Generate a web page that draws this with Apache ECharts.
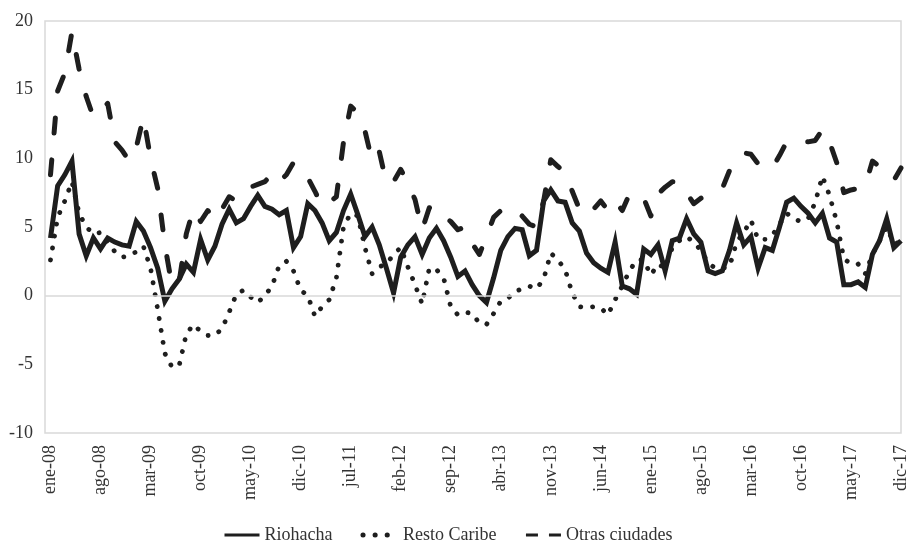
<!DOCTYPE html>
<html>
<head>
<meta charset="utf-8">
<script src="https://cdn.jsdelivr.net/npm/echarts@6/dist/echarts.min.js"></script>
<style>
  html, body { margin: 0; padding: 0; background: #fff; }
  #chart { width: 911px; height: 543px; }
</style>
</head>
<body>
<div id="chart"></div>
<script>
// monthly series, ene-08 .. dic-17
const months = ['ene', 'feb', 'mar', 'abr', 'may', 'jun', 'jul', 'ago', 'sep', 'oct', 'nov', 'dic']
const years = ['08', '09', '10', '11', '12', '13', '14', '15', '16', '17']
const categories = years.flatMap(y => months.map(m => m + '-' + y))

const riohacha = [
  4.2, 8.0, 8.8, 9.8, 4.5, 2.9, 4.2, 3.4, 4.2, 3.9, 3.7, 3.6,
  5.4, 4.7, 3.5, 2.0, -0.4, 0.5, 1.2, 2.3, 1.7, 4.1, 2.6, 3.6,
  5.2, 6.3, 5.3, 5.6, 6.5, 7.3, 6.5, 6.3, 5.9, 6.2, 3.5, 4.3,
  6.7, 6.2, 5.3, 4.0, 4.6, 6.2, 7.4, 5.9, 4.3, 5.0, 3.7, 2.0,
  0.2, 2.8, 3.7, 4.3, 3.0, 4.2, 4.9, 4.0, 2.8, 1.4, 1.8, 0.8,
  0.0, -0.5, 1.3, 3.3, 4.3, 4.9, 4.8, 2.9, 3.3, 6.9, 7.7, 6.9,
  6.8, 5.3, 4.7, 3.1, 2.4, 2.0, 1.7, 3.9, 0.7, 0.5, 0.1, 3.4,
  3.0, 3.7, 1.8, 4.0, 4.2, 5.6, 4.5, 3.9, 1.8, 1.6, 1.8, 3.3,
  5.3, 3.7, 4.3, 2.0, 3.5, 3.3, 5.0, 6.8, 7.1, 6.5, 6.0, 5.3,
  6.0, 4.2, 3.9, 0.8, 0.8, 1.0, 0.6, 3.0, 4.0, 5.6, 3.5, 4.0
]
const restoCaribe = [
  2.6, 5.7, 6.9, 8.3, 6.0, 5.0, 4.5, 4.6, 3.9, 3.2, 2.8, 2.9,
  3.2, 3.6, 2.0, -1.0, -4.2, -5.2, -5.1, -2.8, -2.1, -2.6, -2.9, -2.9,
  -2.4, -1.2, 0.1, 0.4, -0.1, -0.5, 0.0, 0.7, 2.2, 2.5, 1.8, 0.4,
  0.0, -1.5, -0.8, -0.3, 1.3, 5.0, 6.0, 5.8, 3.5, 1.6, 2.1, 2.3,
  3.0, 3.5, 2.1, 0.8, -0.6, 2.0, 1.9, 1.3, -0.8, -1.4, -1.2, -1.3,
  -2.0, -2.1, -1.3, -0.4, -0.2, 0.3, 0.5, 0.7, 0.5, 1.2, 3.1, 2.6,
  1.9, 0.2, -0.8, -0.9, -0.8, -0.9, -1.4, -0.3, 0.7, 1.8, 2.6, 2.6,
  1.5, 2.3, 2.0, 3.5, 4.0, 4.3, 3.9, 3.3, 2.4, 2.0, 2.0, 2.1,
  3.9, 4.6, 5.5, 4.1, 4.1, 4.4, 5.2, 6.0, 5.6, 5.4, 5.6, 6.8,
  8.7, 7.3, 5.4, 2.7, 2.3, 2.3, 1.6, 3.0, 4.0, 5.0, 3.8, 3.9
]
const otrasCiudades = [
  8.8, 14.9, 16.2, 19.2, 16.5, 14.5, 13.0, 13.5, 14.0, 11.2, 10.6, 9.8,
  10.8, 13.0, 10.0, 7.8, 3.7, 0.7, 1.0, 4.5, 6.3, 5.4, 6.2, 5.5,
  6.3, 7.2, 6.9, 7.3, 7.9, 8.1, 8.3, 8.9, 8.3, 8.8, 9.7, 9.0,
  8.6, 7.6, 6.5, 6.8, 7.2, 11.2, 13.8, 13.3, 12.0, 9.8, 10.5, 8.2,
  8.3, 9.2, 8.2, 7.0, 4.8, 6.4, 6.5, 5.8, 5.4, 4.8, 5.0, 3.8,
  3.0, 4.3, 5.7, 6.2, 6.5, 6.3, 5.8, 5.2, 5.0, 6.9, 9.9, 9.4,
  9.0, 7.6, 6.3, 5.8, 6.3, 6.9, 6.2, 6.9, 6.2, 7.4, 7.5, 7.1,
  5.8, 7.4, 7.9, 8.3, 8.3, 7.5, 6.7, 7.1, 7.3, 7.5, 7.8, 9.1,
  10.1, 10.4, 10.3, 9.6, 9.2, 9.3, 10.2, 11.2, 11.3, 11.2, 11.2, 11.3,
  12.1, 11.2, 9.7, 7.5, 7.7, 7.8, 8.0, 9.8, 9.4, 8.9, 8.4, 9.3
]

const FONT = '"Liberation Serif", "Times New Roman", serif'
const INK = '#1e1e1e'
const GRIDC = '#d9d9d9'

const chart = echarts.init(document.getElementById('chart'))

chart.setOption({
  animation: false,
  textStyle: { fontFamily: FONT },
  grid: [
    // data area (first point sits a little inside the frame)
    { left: 50.5, right: 10, top: 21, bottom: 110 },
    // frame + zero line
    {
      left: 45, right: 10, top: 21, bottom: 110,
      show: true, borderColor: GRIDC, borderWidth: 1.5, backgroundColor: 'transparent'
    }
  ],
  legend: {
    left: 223, top: 526, padding: 0,
    itemWidth: 35, itemHeight: 14, itemGap: 28,
    textStyle: { fontFamily: FONT, fontSize: 18, color: '#333' },
    data: [
      { name: 'Riohacha', itemStyle: { opacity: 0 }, lineStyle: { width: 3, type: 'solid' } },
      { name: 'Resto Caribe', itemStyle: { opacity: 0 }, lineStyle: { width: 5, type: [0.1, 12], cap: 'round' } },
      { name: 'Otras ciudades', itemStyle: { opacity: 0 }, lineStyle: { width: 3, type: [12, 11], cap: 'butt' } }
    ]
  },
  xAxis: [
    {
      type: 'category',
      data: categories,
      boundaryGap: false,
      axisLine: { show: false },
      axisTick: { show: false },
      splitLine: { show: false },
      axisLabel: {
        interval: 6, rotate: 90, margin: 12,
        fontFamily: FONT, fontSize: 18, color: '#333'
      }
    },
    { gridIndex: 1, type: 'value', min: 0, max: 1, show: false }
  ],
  yAxis: [
    {
      type: 'value',
      min: -10, max: 20, interval: 5,
      offset: 5.5,
      axisLine: { show: false },
      axisTick: { show: false },
      splitLine: { show: false },
      axisLabel: { margin: 12, fontFamily: FONT, fontSize: 18, color: '#333' }
    },
    { gridIndex: 1, type: 'value', min: -10, max: 20, show: false }
  ],
  series: [
    {
      // zero reference line under the data
      name: 'cero', type: 'line', data: [], z: 1, silent: true,
      xAxisIndex: 1, yAxisIndex: 1,
      markLine: {
        silent: true, symbol: 'none', label: { show: false },
        lineStyle: { color: GRIDC, type: 'solid', width: 1.5 },
        data: [{ yAxis: 0 }]
      }
    },
    {
      name: 'Riohacha', type: 'line', data: riohacha, z: 3,
      symbol: 'none',
      lineStyle: { color: INK, width: 5, type: 'solid', join: 'miter' },
      itemStyle: { color: INK }
    },
    {
      name: 'Resto Caribe', type: 'line', data: restoCaribe, z: 3,
      symbol: 'none',
      lineStyle: { color: INK, width: 4.8, type: [0.1, 12], cap: 'round', join: 'round' },
      itemStyle: { color: INK }
    },
    {
      name: 'Otras ciudades', type: 'line', data: otrasCiudades, z: 3,
      symbol: 'none',
      lineStyle: { color: INK, width: 5, type: [15, 27], cap: 'round', join: 'round' },
      itemStyle: { color: INK }
    }
  ]
})
</script>
</body>
</html>
